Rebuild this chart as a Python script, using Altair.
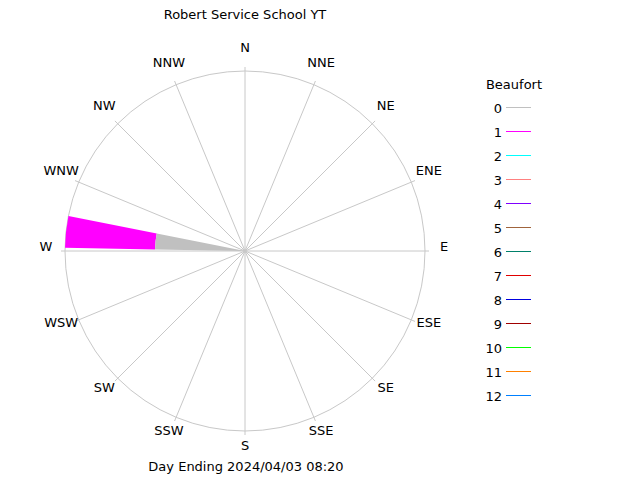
import math
import altair as alt
import pandas as pd

# ---- data ----
directions = ["N", "NNE", "NE", "ENE", "E", "ESE", "SE", "SSE",
              "S", "SSW", "SW", "WSW", "W", "WNW", "NW", "NNW"]
dir_degrees = [i * 22.5 for i in range(16)]

# wind occurrence (percent) in the W sector, stacked by Beaufort class
sector_dir = ["W", "W"]
sector_beaufort = [0, 1]
sector_percent = [50, 50]

beaufort_classes = list(range(13))
beaufort_colors = ["#c0c0c0", "#ff00ff", "#00ffff", "#ff8080", "#7f00ff",
                   "#a0643c", "#00806a", "#e00000", "#0000e0", "#a00000",
                   "#00ff00", "#ff8000", "#0080ff"]

title_text = "Robert Service School YT"
footer_text = "Day Ending 2024/04/03 08:20"

# ---- layout (pixel units relative to rose centre) ----
W, H = 640, 480
CX, CY = 245, 251
R = 180
FONT = "DejaVu Sans"
GRID = "#c8c8c8"

xs = alt.Scale(domain=[-CX, W - CX], range=[0, W], nice=False, zero=False)
ys = alt.Scale(domain=[CY - H, CY], range=[H, 0], nice=False, zero=False)
rs = alt.Scale(type="linear", domain=[0, 100], range=[0, R], zero=True, nice=False)
cs = alt.Scale(domain=beaufort_classes, range=beaufort_colors)

dir_df = pd.DataFrame({"dir": directions, "deg": dir_degrees})

spokes = alt.Chart(dir_df).mark_rule(color=GRID, strokeWidth=1, opacity=1).transform_calculate(
    x0="0", y0="0",
    x1="184*sin(datum.deg*PI/180)", y1="184*cos(datum.deg*PI/180)",
).encode(
    x=alt.X("x0:Q", scale=xs, axis=None),
    y=alt.Y("y0:Q", scale=ys, axis=None),
    x2="x1:Q", y2="y1:Q",
)

circle = alt.Chart(pd.DataFrame({"c": [0]})).mark_arc(
    filled=False, stroke=GRID, strokeWidth=1,
    theta=0, theta2=2 * math.pi, radius=R,
).encode(
    x=alt.X("c:Q", scale=xs, axis=None),
    y=alt.Y("c:Q", scale=ys, axis=None),
)

labels = alt.Chart(dir_df).mark_text(
    font=FONT, fontSize=13, color="black", align="center", baseline="middle"
).transform_calculate(
    lx="199*sin(datum.deg*PI/180)", ly="199*cos(datum.deg*PI/180)+4",
).encode(
    x=alt.X("lx:Q", scale=xs, axis=None),
    y=alt.Y("ly:Q", scale=ys, axis=None),
    text="dir:N",
)

sec_df = pd.DataFrame({"dir": sector_dir, "b": sector_beaufort, "pct": sector_percent})
sec_df = sec_df.merge(dir_df, on="dir")
sec_df["r_end"] = sec_df.groupby("dir")["pct"].cumsum()
sec_df["r_start"] = sec_df["r_end"] - sec_df["pct"]
sec_df["cx"] = 0

wedges = alt.Chart(sec_df).mark_arc(stroke=None, opacity=1).transform_calculate(
    t1="(datum.deg+1)*PI/180", t2="(datum.deg+11.25)*PI/180",
).encode(
    x=alt.X("cx:Q", scale=xs, axis=None),
    y=alt.Y("cx:Q", scale=ys, axis=None),
    theta=alt.Theta("t1:Q", scale=None),
    theta2="t2:Q",
    radius=alt.Radius("r_end:Q", scale=rs),
    radius2="r_start:Q",
    color=alt.Color("b:O", scale=cs, legend=None),
    order=alt.Order("b:Q", sort="descending"),
)

leg_df = pd.DataFrame({"b": beaufort_classes})
legend_lines = alt.Chart(leg_df).mark_rule(strokeWidth=1, opacity=1).transform_calculate(
    lx1="261", lx2="286", ly="143.5-24*datum.b",
).encode(
    x=alt.X("lx1:Q", scale=xs, axis=None),
    x2="lx2:Q",
    y=alt.Y("ly:Q", scale=ys, axis=None),
    color=alt.Color("b:O", scale=cs, legend=None),
)
legend_text = alt.Chart(leg_df).mark_text(
    font=FONT, fontSize=13, color="black", align="right", baseline="middle"
).transform_calculate(
    lx="257", ly="142-24*datum.b",
).encode(
    x=alt.X("lx:Q", scale=xs, axis=None),
    y=alt.Y("ly:Q", scale=ys, axis=None),
    text="b:N",
)

texts_df = pd.DataFrame({
    "t": ["Beaufort", title_text, footer_text],
    "x": [269, 0, 1],
    "y": [166, 236, -216],
})
texts = alt.Chart(texts_df).mark_text(
    font=FONT, fontSize=13, color="black", align="center", baseline="middle"
).encode(
    x=alt.X("x:Q", scale=xs, axis=None),
    y=alt.Y("y:Q", scale=ys, axis=None),
    text="t:N",
)

chart = alt.layer(
    spokes, circle, wedges, labels, legend_lines, legend_text, texts
).properties(
    width=W, height=H, padding=0, autosize=alt.AutoSizeParams(type="none"),
    background="white",
).configure_view(stroke=None)

chart.save("out.html", embed_options={"renderer": "svg", "actions": False})
